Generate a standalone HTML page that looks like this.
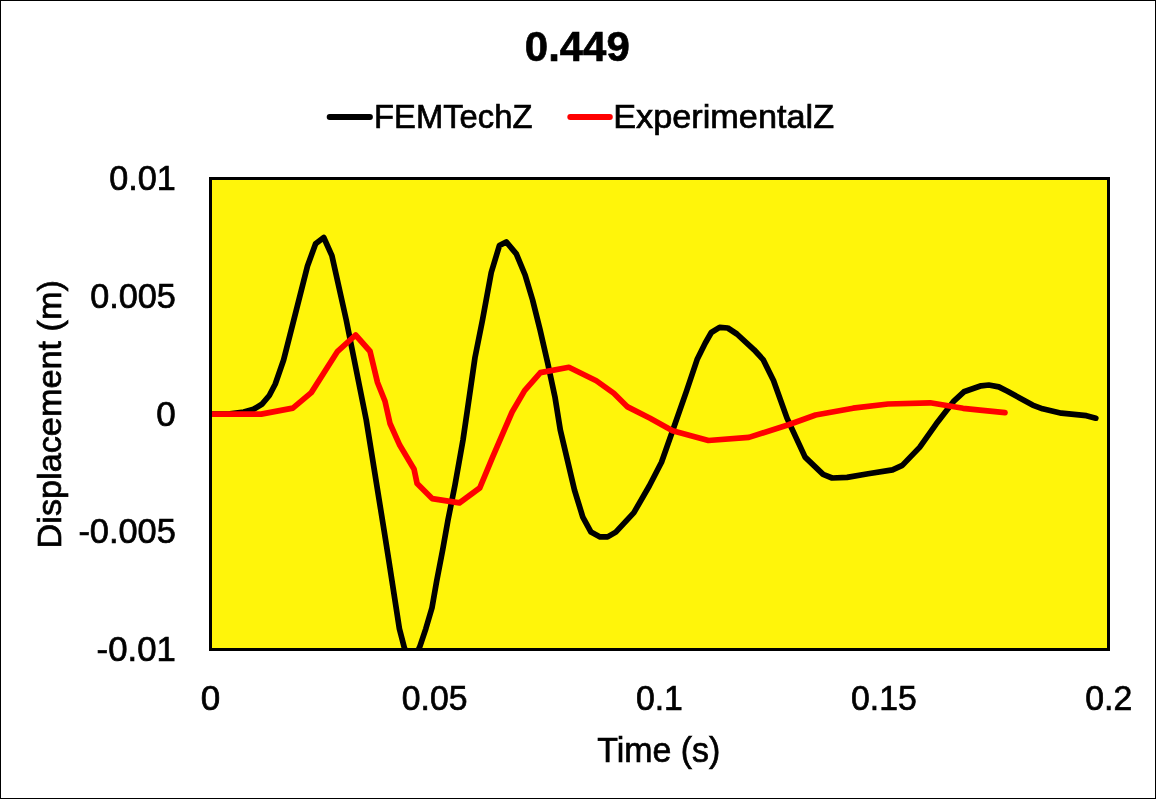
<!DOCTYPE html>
<html><head><meta charset="utf-8">
<style>
html,body{margin:0;padding:0;background:#fff;}
svg{display:block;will-change:transform;}
text{font-family:"Liberation Sans", sans-serif;fill:#000;stroke:#000;stroke-width:0.7px;}
</style></head>
<body>
<svg width="1156" height="799" viewBox="0 0 1156 799">
<rect x="0" y="0" width="1156" height="799" fill="#fff"/>
<rect x="0.5" y="0.5" width="1155" height="798" fill="none" stroke="#000" stroke-width="1"/>
<text x="577.3" y="60.7" font-size="43.3" font-weight="bold" text-anchor="middle" textLength="105" lengthAdjust="spacingAndGlyphs">0.449</text>
<line x1="329.7" y1="117" x2="369.9" y2="117" stroke="#000" stroke-width="6" stroke-linecap="round"/>
<text x="374.1" y="127.6" font-size="34" textLength="158.3" lengthAdjust="spacingAndGlyphs">FEMTechZ</text>
<line x1="570.3" y1="117" x2="609.8" y2="117" stroke="#f00" stroke-width="6" stroke-linecap="round"/>
<text x="613.2" y="127.6" font-size="34" textLength="220.9" lengthAdjust="spacingAndGlyphs">ExperimentalZ</text>
<rect x="210.5" y="178.5" width="898" height="471" fill="#FFF50A" stroke="#000" stroke-width="3"/>
<!--CURVES-->
<defs><clipPath id="pc"><rect x="210.5" y="178.5" width="898" height="471"/></clipPath></defs>
<g clip-path="url(#pc)" fill="none" stroke-linejoin="round" stroke-linecap="round">
<polyline points="210.5,414 230,413.8 243.75,412 253.5,409.3 261.8,404.3 269.3,395.5 275.3,384 283.6,360 293.8,320 307.5,266 315.6,243.75 323.75,237.5 331.9,255.6 346.25,320 366.25,420 384,530 388.75,560 399.4,628.75 404.4,648 412,664 419.9,646.3 425.8,628.8 432,607.7 436.6,581.4 442.7,549.8 448,520 455,485 463,440 467.4,410 475,357.5 482.5,320 491.25,272.5 499.4,245.6 506.25,241.9 516.3,253.8 525.1,275 532.6,300 540.1,330 547.6,362.7 555.1,397.7 560.3,430 574.5,490.1 582.8,517.1 591,532.1 600.1,536.9 607.6,536.9 615.8,532.1 633.9,512.6 649.25,486 661.5,462.25 672,432.5 686.5,391.1 697.1,359.6 705.3,343 711.3,332.5 719.6,327.3 727.8,328 736.9,334 754.1,349.8 763.1,359.6 773.5,380.5 787,418.1 805.1,457.1 823.1,474.4 832.1,478 847.1,477.4 868.1,473.8 892.5,469.9 902.3,465.4 919.6,447.4 936.1,424.1 954.1,400.8 963.9,391.8 981.1,385.8 988.8,385 998.8,386.9 1007.5,391.3 1032.6,405.1 1042.6,408.8 1061.4,413.2 1086.4,415.7 1095.8,418.2" stroke="#000" stroke-width="5.7"/>
<polyline points="210.5,414.1 261.2,414.1 292.8,408.1 311.3,392.6 337.6,351.3 355.6,335 370,351.25 377.5,382.5 385,401.25 390,423.5 399.8,445.3 414.1,469.3 417.1,483.6 432.1,498.6 459.5,502.9 479.8,487.9 492.6,457.1 512.1,412 524.6,390.6 540.4,372.6 568.9,367.3 596.3,380.7 613.8,393.2 627.6,406.9 650.1,418.2 672.6,430.7 708.4,440.5 748.9,437.4 788.5,424.8 815.6,415 853.1,408.2 888,404 930.1,402.8 963.1,408.3 980,410.1 1005,412.6" stroke="#f00" stroke-width="5.7"/>
</g>
<rect x="210.5" y="178.5" width="898" height="471" fill="none" stroke="#000" stroke-width="3" stroke-linejoin="round"/>
<!--/CURVES-->
<g font-size="35" text-anchor="end">
<text x="175.8" y="190.3" textLength="66.6" lengthAdjust="spacingAndGlyphs">0.01</text>
<text x="175.8" y="307.8" textLength="85.6" lengthAdjust="spacingAndGlyphs">0.005</text>
<text x="175.8" y="425.7">0</text>
<text x="175.8" y="543.4" textLength="97.4" lengthAdjust="spacingAndGlyphs">-0.005</text>
<text x="175.8" y="661.4" textLength="79.2" lengthAdjust="spacingAndGlyphs">-0.01</text>
</g>
<g font-size="35" text-anchor="middle">
<text x="210.5" y="710">0</text>
<text x="434.6" y="710" textLength="65.6" lengthAdjust="spacingAndGlyphs">0.05</text>
<text x="659.4" y="710" textLength="47" lengthAdjust="spacingAndGlyphs">0.1</text>
<text x="883.9" y="710" textLength="65.6" lengthAdjust="spacingAndGlyphs">0.15</text>
<text x="1108.7" y="710" textLength="47" lengthAdjust="spacingAndGlyphs">0.2</text>
</g>
<text x="658.8" y="761.9" font-size="35" text-anchor="middle" textLength="123" lengthAdjust="spacingAndGlyphs">Time (s)</text>
<text transform="translate(61,414.3) rotate(-90)" font-size="34" text-anchor="middle" textLength="268.2" lengthAdjust="spacingAndGlyphs">Displacement (m)</text>
</svg>
</body></html>
